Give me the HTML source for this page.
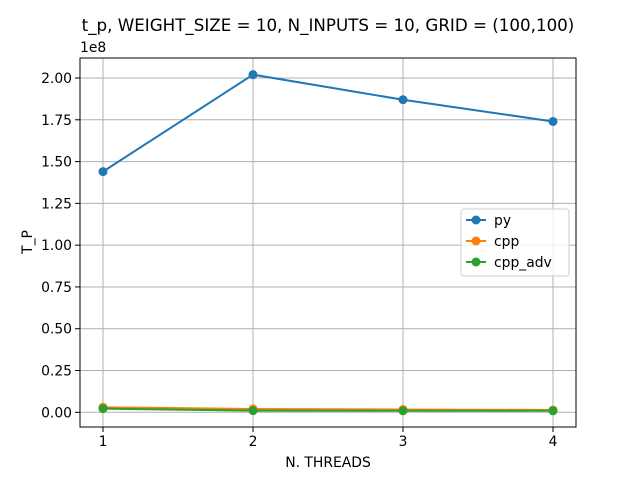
<!DOCTYPE html>
<html><head><meta charset="utf-8"><style>
body{margin:0;background:#fff;font-family:"DejaVu Sans","Liberation Sans",sans-serif;}
svg text{font-family:"DejaVu Sans","Liberation Sans",sans-serif;}
</style></head><body>
<svg id="chart" width="640" height="480" xmlns="http://www.w3.org/2000/svg"></svg>
<script>
const categories = [1, 2, 3, 4];
const pyValues = [1.44e8, 2.02e8, 1.87e8, 1.74e8];
const cppValues = [3.0e6, 2.0e6, 1.7e6, 1.4e6];
const cppAdvValues = [2.2e6, 1.0e6, 0.9e6, 0.9e6];
const yTicks = [0, 0.25e8, 0.5e8, 0.75e8, 1.0e8, 1.25e8, 1.5e8, 1.75e8, 2.0e8];
const yTickLabels = ["0.00","0.25","0.50","0.75","1.00","1.25","1.50","1.75","2.00"];

const NS = "http://www.w3.org/2000/svg";
const svg = document.getElementById('chart');
const L=80,R=576,T=58,B=427;
const xs = v => 103 + (v-1)*(553-103)/3;
const ys = v => 412.3 - v/2.0e8*(412.3-78);
function mk(tag, attrs, parent){const e=document.createElementNS(NS,tag);for(const k in attrs)e.setAttribute(k,attrs[k]);(parent||svg).appendChild(e);return e;}

categories.forEach(c=>{
  const g=mk('line',{x1:xs(c),x2:xs(c),y1:T,y2:B,stroke:'#b0b0b0','stroke-width':1});
  
  
  const t=mk('line',{x1:xs(c),x2:xs(c),y1:B,y2:B+5,stroke:'#000','stroke-width':1});
  
  
  const tx=mk('text',{x:xs(c),y:B+19,'font-size':13.9,'text-anchor':'middle'});tx.textContent=c;
  
  
});
yTicks.forEach((v,i)=>{
  const g=mk('line',{x1:L,x2:R,y1:ys(v),y2:ys(v),stroke:'#b0b0b0','stroke-width':1});
  
  
  const t=mk('line',{x1:L-5,x2:L,y1:ys(v),y2:ys(v),stroke:'#000','stroke-width':1});
  
  
  const tx=mk('text',{x:L-8,y:ys(v)+5,'font-size':13.9,'text-anchor':'end'});tx.textContent=yTickLabels[i];
  
  
});
const fr=mk('rect',{x:L,y:T,width:R-L,height:B-T,fill:'none',stroke:'#000','stroke-width':1});



function series(vals,color,name){
  const p=mk('polyline',{points:vals.map((v,i)=>xs(categories[i])+','+ys(v)).join(' '),fill:'none',stroke:color,'stroke-width':2});
  
  
  vals.forEach((v,i)=>{
    const c=mk('circle',{cx:xs(categories[i]),cy:ys(v),r:4.5,fill:color});
    
    
  });
}
series(pyValues,'#1f77b4','py');
series(cppValues,'#ff7f0e','cpp');
series(cppAdvValues,'#2ca02c','cpp-adv');

function text(x,y,s,size,anchor,name,rot){
  const t=mk('text',{x:x,y:y,'font-size':size,'text-anchor':anchor});t.textContent=s;
  if(rot)t.setAttribute('transform','rotate(-90 '+x+' '+y+')');
  
  
}
text(328,31,'t_p, WEIGHT_SIZE = 10, N_INPUTS = 10, GRID = (100,100)',16.7,'middle','chart-title');
text(328,467,'N. THREADS',13.9,'middle','x-axis-title');
text(32,242,'T_P',13.9,'middle','y-axis-title',true);
text(80,52,'1e8',13.9,'start','y-scale-label');

const lg=mk('rect',{x:461,y:209,width:108,height:67,rx:3,fill:'#fff','fill-opacity':0.8,stroke:'#ccc'});


[['py','#1f77b4'],['cpp','#ff7f0e'],['cpp_adv','#2ca02c']].forEach((e,i)=>{
  const y=220+i*21;
  const l=mk('line',{x1:466,x2:486,y1:y,y2:y,stroke:e[1],'stroke-width':2});
  
  
  const c=mk('circle',{cx:476,cy:y,r:4.5,fill:e[1]});
  
  
  text(494,y+5,e[0],13.9,'start','legend-entry-label');
});
</script>
</body></html>
